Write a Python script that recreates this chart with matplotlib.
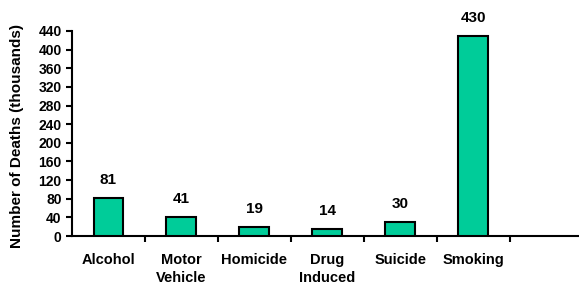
import matplotlib.pyplot as plt
import numpy as np

# Data
categories = ['Alcohol', 'Motor\nVehicle', 'Homicide', 'Drug\nInduced', 'Suicide', 'Smoking']
deaths = [81, 41, 19, 14, 30, 430]
yticks = list(range(0, 441, 40))

plt.rcParams['font.family'] = ['Liberation Sans', 'DejaVu Sans']
plt.rcParams['font.weight'] = 'bold'

fig = plt.figure(figsize=(5.79, 2.86), dpi=100)
ax = fig.add_axes([72 / 579, 50 / 286, 507 / 579, 205 / 286])

x = np.arange(len(categories))
ax.bar(x, deaths, width=0.41, color='#00CC99', edgecolor='black', linewidth=1.5, zorder=3)

for xi, v in zip(x, deaths):
    ax.annotate(str(v), (xi, v), xytext=(0, 8), textcoords='offset points',
                ha='center', va='bottom', fontsize=11, fontweight='bold')

ax.set_xlim(-0.5, 6.45)
ax.set_ylim(0, 440)
ax.set_yticks(yticks)
ax.tick_params(axis='y', labelsize=10, width=1.5, length=4, direction='out')

# category labels centred in slots, ticks at slot boundaries
ax.set_xticks(x)
ax.set_xticklabels(categories, fontsize=10.5, fontweight='bold', linespacing=1.35)
ax.tick_params(axis='x', which='major', length=0, pad=12)
ax.set_xticks(np.arange(0.5, 6, 1), minor=True)
ax.tick_params(axis='x', which='minor', length=4, width=1.5, direction='out')

ax.spines['top'].set_visible(False)
ax.spines['right'].set_visible(False)
ax.spines['left'].set_linewidth(1.5)
ax.spines['bottom'].set_linewidth(1.5)

ax.set_ylabel('Number of Deaths (thousands)', fontsize=11, fontweight='bold')
ax.yaxis.set_label_coords(-48 / 507, 0.49)

plt.savefig('out.png', dpi=100)
